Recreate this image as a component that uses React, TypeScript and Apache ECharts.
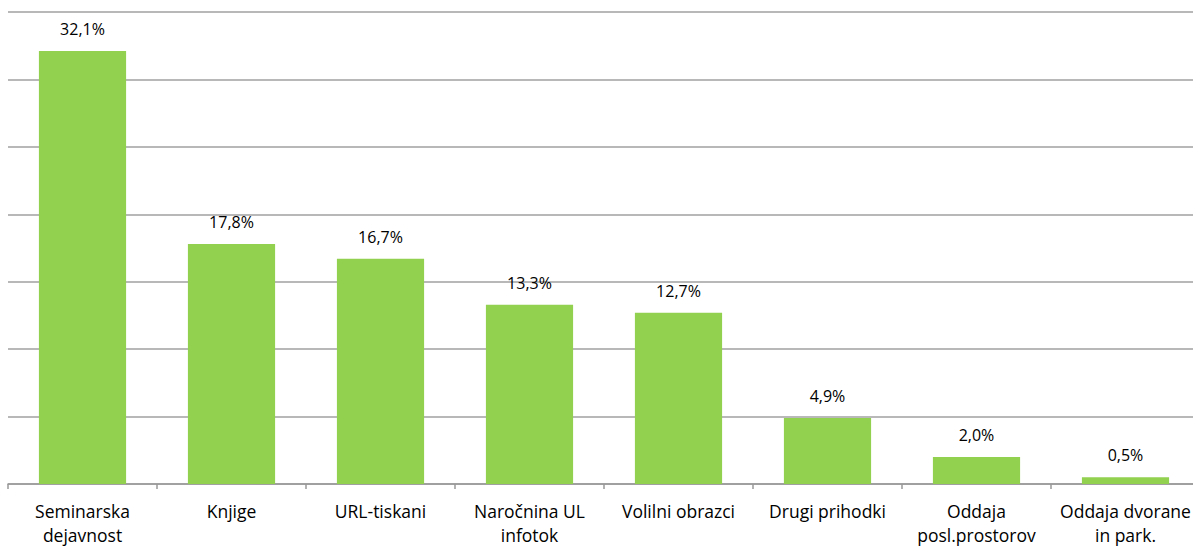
import React, { useEffect, useRef } from "react";
import * as echarts from "echarts";

const categories = [
  "Seminarska\ndejavnost",
  "Knjige",
  "URL-tiskani",
  "Naročnina UL\ninfotok",
  "Volilni obrazci",
  "Drugi prihodki",
  "Oddaja\nposl.prostorov",
  "Oddaja dvorane\nin park.",
];
const values = [32.1, 17.8, 16.7, 13.3, 12.7, 4.9, 2.0, 0.5];
const yMax = 35;
const yInterval = 5;

export default function App() {
  const ref = useRef<HTMLDivElement>(null);
  useEffect(() => {
    const chart = echarts.init(ref.current!, null, { renderer: "svg" });
    chart.setOption({
      animation: false,
      grid: { left: 8, top: 12, width: 1192, height: 478, containLabel: false },
      xAxis: {
        type: "category",
        data: categories,
        axisLine: { lineStyle: { color: "#999", width: 1.5 } },
        axisTick: { show: true, length: 5, interval: 0, lineStyle: { color: "#999", width: 1.5 } },
        axisLabel: {
          interval: 0,
          color: "#000",
          fontFamily: "Open Sans",
          fontSize: 17.5,
          lineHeight: 24,
          margin: 15,
        },
      },
      yAxis: {
        type: "value",
        min: 0,
        max: yMax,
        interval: yInterval,
        axisLabel: { show: false },
        axisLine: { show: false },
        axisTick: { show: false },
        splitLine: { lineStyle: { color: "#a0a0a0", width: 1.5 } },
      },
      series: [
        {
          type: "bar",
          data: values,
          barWidth: "58.5%",
          itemStyle: { color: "#92d050" },
          label: {
            show: true,
            position: "top",
            distance: 14,
            color: "#000",
            fontFamily: "Open Sans",
            fontSize: 16,
            formatter: (p: any) => p.value.toFixed(1).replace(".", ",") + "%",
          },
        },
      ],
    });
    return () => chart.dispose();
  }, []);
  return (
    <div
      style={{
        position: "fixed",
        left: 0,
        top: 0,
        width: 1193,
        height: 547,
        overflow: "hidden",
        background: "#fff",
      }}
    >
      <div ref={ref} style={{ width: 1201, height: 547 }} />
    </div>
  );
}
